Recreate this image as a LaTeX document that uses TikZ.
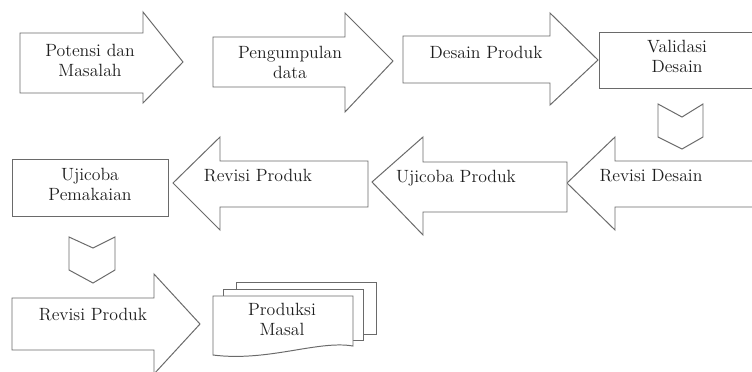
\documentclass[tikz,border=0pt]{standalone}
\usepackage{fontspec}
\usepackage{xcolor}
\usepackage{tikz}
\usetikzlibrary{calc}
\definecolor{bg}{HTML}{FFFFFF}
\definecolor{edge}{HTML}{6A6A6A}
\definecolor{ink}{HTML}{1E1E1E}
\tikzset{
  base/.style={draw=edge, line width=0.7pt, line join=miter, fill=bg},
  open/.style={draw=edge, line width=0.7pt},
  lab/.style={text=ink, align=center, inner sep=0pt,
    font=\fontsize{12.6}{14.2}\selectfont\addfontfeatures{LetterSpace=11}}
}
\begin{document}
\begin{tikzpicture}[x=0.025cm, y=-0.025cm]
  \useasboundingbox (0,0) rectangle (752,371);
  \clip (0,0) rectangle (752,371);
  \fill[bg] (0,0) rectangle (752,371);
  % row 1
  \draw[base] (20,33) -- (143,33) -- (143,12) -- (183,62) -- (143,103) -- (143,93) -- (20,93) -- cycle;
  \node[lab] (potensi) at (90,60) {Potensi dan\\Masalah};
  \draw[base] (213,37) -- (345,37) -- (345,13) -- (393,61) -- (345,112) -- (345,87) -- (213,87) -- cycle;
  \node[lab] (pengumpulan) at (290,62) {Pengumpulan\\data};
  \draw[base] (403,36) -- (550,36) -- (550,13) -- (598,60) -- (550,105) -- (550,83) -- (403,83) -- cycle;
  \node[lab] (desain) at (486,52) {Desain Produk};
  \draw[open] (760,32) -- (599,32) -- (599,88) -- (760,88);
  \node[lab] (validasi) at (677,56) {Validasi\\Desain};
  \draw[base] (658,104) -- (682,117) -- (703,104) -- (703,137) -- (682,149) -- (658,137) -- cycle;
  % row 2
  \draw[base] (760,161) -- (615,161) -- (615,137) -- (567,183) -- (615,230) -- (615,207) -- (760,207);
  \node[lab] (revdesain) at (651,176) {Revisi Desain};
  \draw[base] (567,162) -- (423,162) -- (423,137) -- (372,182) -- (423,235) -- (423,212) -- (567,212) -- cycle;
  \node[lab] (ujiproduk) at (456,178) {Ujicoba Produk};
  \draw[base] (368,161) -- (220,161) -- (220,137) -- (173,183) -- (220,230) -- (220,207) -- (368,207) -- cycle;
  \node[lab] (revproduk) at (258,176) {Revisi Produk};
  \draw[base] (12,159) rectangle (168,216);
  \node[lab] (ujipakai) at (90,184) {Ujicoba\\Pemakaian};
  \draw[base] (69,237) -- (93,248) -- (115,237) -- (115,270) -- (93,283) -- (69,270) -- cycle;
  % row 3
  \draw[base] (12,298) -- (154,298) -- (154,274) -- (200,324) -- (154,374) -- (154,350) -- (12,350) -- cycle;
  \node[lab] (revproduk2) at (93,315) {Revisi Produk};
  \draw[base] (236,282) rectangle (376,334);
  \draw[base] (223,289) rectangle (363,340);
  \draw[base] (213,296) -- (353,296) -- (353,346)
    .. controls (318,340) and (268,362) .. (213,355) -- cycle;
  \node[lab] (produksi) at (282,319) {Produksi\\Masal};
\end{tikzpicture}
\end{document}
